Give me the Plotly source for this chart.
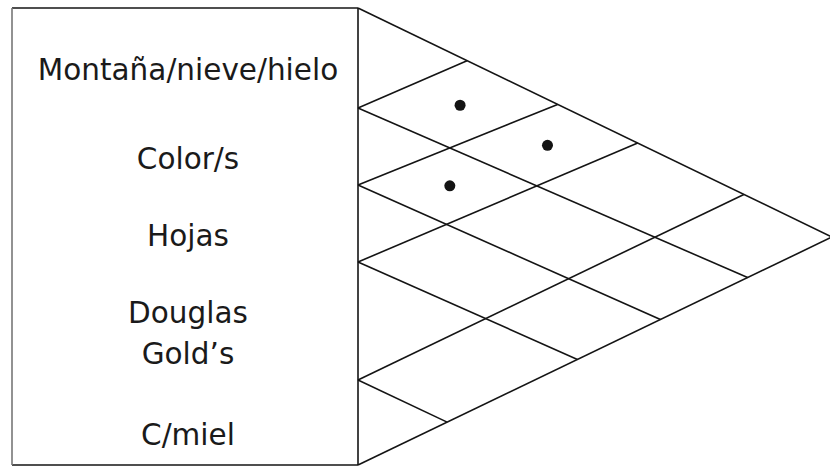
import plotly.graph_objects as go

# ---- data ----
categories = ["Montaña/nieve/hielo", "Color/s", "Hojas", "Douglas<br>Gold’s", "C/miel"]
# correlation marks (pairs of category indices that are related)
correlations = [(0, 1), (0, 2), (1, 2)]

# ---- layout constants (pixel space of the 830x466 canvas) ----
W, H = 830, 466
BOX_LEFT = 12
ROOF_LEFT = 358
ROW_EDGES = [8, 108, 185, 262, 380, 465]
APEX = (832, 237)
TOP_FRAC = [0.230, 0.421, 0.590, 0.814]   # where up-right lines from edges 1..4 meet the top edge
BOT_FRAC = [0.822, 0.638, 0.463, 0.188]   # where down-right lines from edges 1..4 meet the bottom edge
LABEL_X = 188
LABEL_DY = 15
LINE_GAP = 41
FONT_SIZE = 29.5
INK = "#141414"

top_start = (ROOF_LEFT, ROW_EDGES[0])
bot_start = (ROOF_LEFT, ROW_EDGES[-1])


def along(p, q, f):
    return (p[0] + f * (q[0] - p[0]), p[1] + f * (q[1] - p[1]))


def intersect(l1, l2):
    (x1, y1), (x2, y2) = l1
    (x3, y3), (x4, y4) = l2
    d = (x1 - x2) * (y3 - y4) - (y1 - y2) * (x3 - x4)
    t = ((x1 - x3) * (y3 - y4) - (y1 - y3) * (x3 - x4)) / d
    return (x1 + t * (x2 - x1), y1 + t * (y2 - y1))


n = len(categories)
# down-right lines (u): index 0 is top edge
u_lines = {0: (top_start, APEX)}
for k in range(1, n):
    u_lines[k] = ((ROOF_LEFT, ROW_EDGES[k]), along(bot_start, APEX, BOT_FRAC[k - 1]))
# up-right lines (v): index n is bottom edge
v_lines = {n: (bot_start, APEX)}
for k in range(1, n):
    v_lines[k] = ((ROOF_LEFT, ROW_EDGES[k]), along(top_start, APEX, TOP_FRAC[k - 1]))

fig = go.Figure()

segs = list(u_lines.values()) + list(v_lines.values())
lx, ly = [], []
for (a, b) in segs:
    lx += [a[0], b[0], None]
    ly += [a[1], b[1], None]
# box: top, right (roof base), bottom
lx += [BOX_LEFT, ROOF_LEFT, None, ROOF_LEFT, ROOF_LEFT, None, BOX_LEFT, ROOF_LEFT, None]
ly += [ROW_EDGES[0], ROW_EDGES[0], None, ROW_EDGES[0], ROW_EDGES[-1], None,
       ROW_EDGES[-1], ROW_EDGES[-1], None]
fig.add_trace(go.Scatter(x=lx, y=ly, mode="lines", line=dict(color=INK, width=1.6),
                         hoverinfo="skip", showlegend=False))
# left border (lighter, scanned look)
fig.add_trace(go.Scatter(x=[BOX_LEFT, BOX_LEFT], y=[ROW_EDGES[0], ROW_EDGES[-1]], mode="lines",
                         line=dict(color="#777777", width=1.6), hoverinfo="skip", showlegend=False))

# correlation dots at cell centroids
dx, dy = [], []
for (i, j) in correlations:
    pts = [intersect(u_lines[i], v_lines[j]), intersect(u_lines[i], v_lines[j + 1]),
           intersect(u_lines[i + 1], v_lines[j]), intersect(u_lines[i + 1], v_lines[j + 1])]
    dx.append(sum(p[0] for p in pts) / 4 + 2)
    dy.append(sum(p[1] for p in pts) / 4)
fig.add_trace(go.Scatter(x=dx, y=dy, mode="markers", marker=dict(size=11, color=INK),
                         hoverinfo="skip", showlegend=False))

# labels (multi-line labels laid out line by line)
tx, ty, tt = [], [], []
for k, label in enumerate(categories):
    parts = label.split("<br>")
    mid = (ROW_EDGES[k] + ROW_EDGES[k + 1]) / 2 + LABEL_DY
    for m, part in enumerate(parts):
        tx.append(LABEL_X)
        ty.append(mid + (m - (len(parts) - 1) / 2) * LINE_GAP)
        tt.append(part)
fig.add_trace(go.Scatter(x=tx, y=ty, mode="text", text=tt,
                         textposition="middle center",
                         textfont=dict(family="DejaVu Sans", size=FONT_SIZE, color="#1a1a1a"),
                         hoverinfo="skip", showlegend=False))

fig.update_layout(width=W, height=H, margin=dict(l=0, r=0, t=0, b=0),
                  paper_bgcolor="white", plot_bgcolor="white",
                  xaxis=dict(range=[0, W], visible=False, fixedrange=True),
                  yaxis=dict(range=[H, 0], visible=False, fixedrange=True))
fig.write_html("out.html", config={"displayModeBar": False},
               post_script="document.body.style.margin='0px';document.body.style.overflow='hidden';")
